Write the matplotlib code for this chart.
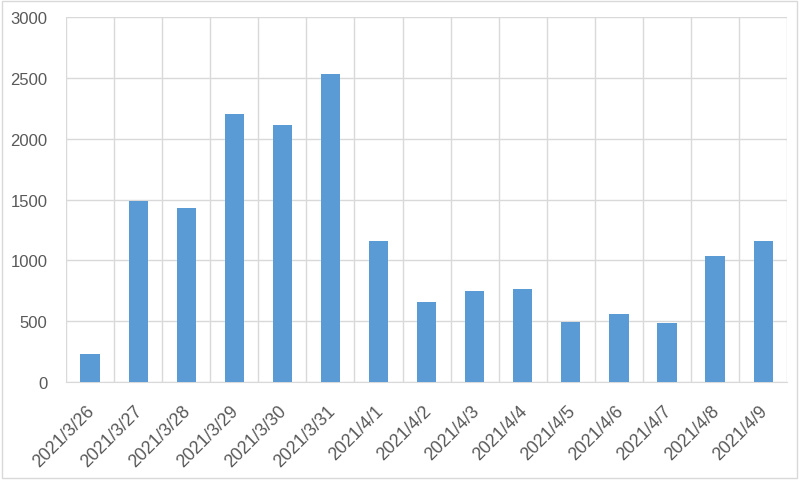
import matplotlib.pyplot as plt
import matplotlib.transforms as mtransforms
import numpy as np
from matplotlib.patches import Rectangle

# values
dates = ['2021/3/26', '2021/3/27', '2021/3/28', '2021/3/29', '2021/3/30',
         '2021/3/31', '2021/4/1', '2021/4/2', '2021/4/3', '2021/4/4',
         '2021/4/5', '2021/4/6', '2021/4/7', '2021/4/8', '2021/4/9']
counts = [232, 1486, 1434, 2203, 2116, 2532, 1158, 657, 747, 764,
          493, 561, 485, 1032, 1158]
y_ticks = [0, 500, 1000, 1500, 2000, 2500, 3000]

plt.rcParams['font.family'] = ['Liberation Sans', 'DejaVu Sans']

fig = plt.figure(figsize=(8, 4.81), dpi=100)
ax = fig.add_axes([0.0825, 0.2037, 0.9015, 0.7589])

x = np.arange(len(dates))
ax.bar(x, counts, width=0.4, color='#5B9BD5', zorder=3)

ax.set_xlim(-0.5, len(dates) - 0.5)
ax.set_ylim(0, 3000)
ax.set_yticks(y_ticks)
ax.set_xticks(x)
ax.set_xticklabels(dates, rotation=45, ha='right', rotation_mode='anchor')
ax.set_xticks(np.arange(len(dates) + 1) - 0.5, minor=True)

ax.grid(axis='y', which='major', color='#D9D9D9', linewidth=1, zorder=0)
ax.grid(axis='x', which='minor', color='#D9D9D9', linewidth=1, zorder=0)
ax.tick_params(axis='both', which='both', length=0, labelcolor='#595959')
ax.tick_params(axis='y', labelsize=12, pad=13.5)
ax.tick_params(axis='x', labelsize=12.8, pad=14)

# nudge the rotated date labels a little to the left
shift = mtransforms.ScaledTranslation(-4 / 100, 0, fig.dpi_scale_trans)
for lbl in ax.get_xticklabels():
    lbl.set_transform(lbl.get_transform() + shift)

for s in ['top', 'right', 'left']:
    ax.spines[s].set_visible(False)
ax.spines['bottom'].set_color('#D9D9D9')

# chart area border
fig.patches.append(Rectangle((0.002, 0.004), 0.994, 0.992, transform=fig.transFigure,
                             fill=False, edgecolor='#D9D9D9', linewidth=1))

fig.savefig('out.png', dpi=100)
